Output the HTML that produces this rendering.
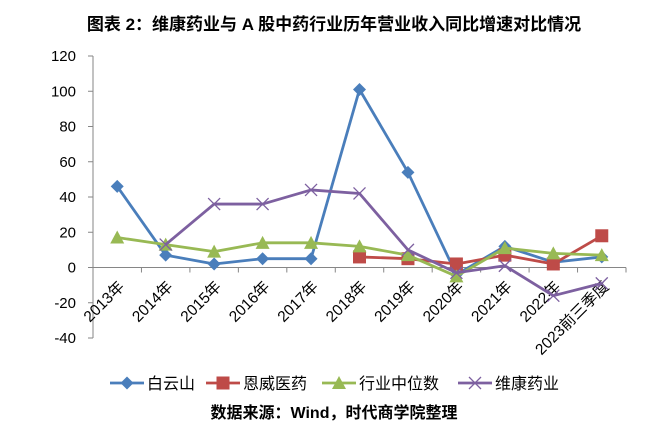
<!DOCTYPE html>
<html><head><meta charset="utf-8"><style>
body{margin:0;background:#fff;width:669px;height:435px;overflow:hidden;font-family:"Liberation Sans","Noto Sans CJK SC",sans-serif}
</style></head><body>
<svg width="669" height="435" font-family="Liberation Sans, Noto Sans CJK SC, sans-serif">
<text x="334" y="30" text-anchor="middle" font-size="17" font-weight="bold" fill="#000">图表 2：维康药业与 A 股中药行业历年营业收入同比增速对比情况</text>
<g id="axes"></g><g id="series"></g><g id="legend"></g>
<text x="334" y="418" text-anchor="middle" font-size="16" font-weight="bold" fill="#000">数据来源：Wind，时代商学院整理</text>
</svg>
<script>
const categories=["2013年","2014年","2015年","2016年","2017年","2018年","2019年","2020年","2021年","2022年","2023前三季度"];
const baiyunshan=[46,7,2,5,5,101,54,-4,12,3,6];
const enwei=[null,null,null,null,null,6,5,2,7,2,18];
const median=[17,13,9,14,14,12,7,-5,11,8,7];
const weikang=[null,13,36,36,44,42,10,-3,1,-16,-9];
const yTicks=[-40,-20,0,20,40,60,80,100,120];
const NS="http://www.w3.org/2000/svg";
const x0=93,x1=626,yTop=56,yBot=338;
const bw=(x1-x0)/categories.length;
const X=i=>x0+bw*(i+0.5);
const Y=v=>yBot-(v+40)/160*(yBot-yTop);
function mk(t,a,p){const e=document.createElementNS(NS,t);for(const k in a)e.setAttribute(k,a[k]);p.appendChild(e);return e;}
const ax=document.getElementById('axes');
let yl=mk('line',{x1:x0,y1:yTop,x2:x0,y2:yBot,stroke:'#868686'},ax);


yTicks.forEach(v=>{
 mk('line',{x1:x0-5,y1:Y(v),x2:x0,y2:Y(v),stroke:'#868686'},ax);
 const t=mk('text',{x:x0-17,y:Y(v)+5,'text-anchor':'end','font-size':15,fill:'#000'},ax);
 t.textContent=v;
 
 
});
let xl=mk('line',{x1:x0,y1:Y(0),x2:x1,y2:Y(0),stroke:'#868686'},ax);


categories.forEach((c,i)=>{
 const tx=x0+bw*(i+1);
 mk('line',{x1:tx,y1:Y(0),x2:tx,y2:Y(0)+5,stroke:'#868686'},ax);
 const cx=X(i)+8,cy=Y(0)+20;
 const t=mk('text',{x:cx,y:cy,'text-anchor':'end','font-size':15.5,fill:'#000',transform:`rotate(-45 ${cx} ${cy})`},ax);
 t.textContent=c;
 
 
});
const series=[
 {name:'白云山',data:baiyunshan,color:'#4a7ebb',m:'diamond',id:'baiyunshan'},
 {name:'恩威医药',data:enwei,color:'#be4b48',m:'square',id:'enwei'},
 {name:'行业中位数',data:median,color:'#98b954',m:'triangle',id:'median'},
 {name:'维康药业',data:weikang,color:'#7d60a0',m:'x',id:'weikang'}];
function marker(g,m,x,y,c){
 if(m==='diamond')mk('polygon',{points:`${x},${y-6.5} ${x+6.5},${y} ${x},${y+6.5} ${x-6.5},${y}`,fill:c},g);
 else if(m==='square')mk('rect',{x:x-6.5,y:y-6.5,width:13,height:13,fill:c},g);
 else if(m==='triangle')mk('polygon',{points:`${x},${y-7} ${x+7},${y+6} ${x-7},${y+6}`,fill:c},g);
 else{mk('path',{d:`M${x-6},${y-6}L${x+6},${y+6}M${x-6},${y+6}L${x+6},${y-6}`,stroke:c,'stroke-width':1.3},g);}
}
const sg=document.getElementById('series');
series.forEach(s=>{
 const g=mk('g',{},sg);
 
 
 let d='';s.data.forEach((v,i)=>{if(v===null)return;d+=(d?'L':'M')+X(i)+','+Y(v);});
 mk('path',{d,fill:'none',stroke:s.color,'stroke-width':2.8,'stroke-linejoin':'round'},g);
 s.data.forEach((v,i)=>{if(v!==null)marker(g,s.m,X(i),Y(v),s.color);});
});
const lg=document.getElementById('legend');
const lx=[110,206,322,458];
series.forEach((s,i)=>{
 const g=mk('g',{},lg);
 
 
 mk('line',{x1:lx[i],y1:383,x2:lx[i]+34,y2:383,stroke:s.color,'stroke-width':2.8},g);
 marker(g,s.m,lx[i]+17,383,s.color);
 const t=mk('text',{x:lx[i]+37,y:389,'font-size':16,fill:'#000'},g);
 t.textContent=s.name;
});
</script>
</body></html>
